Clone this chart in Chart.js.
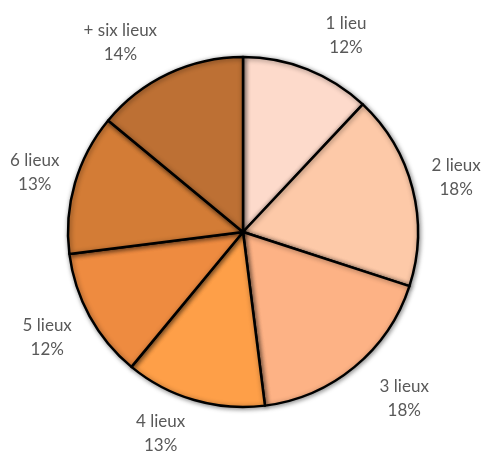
<!DOCTYPE html>
<html>
<head>
<meta charset="utf-8">
<script src="https://cdn.jsdelivr.net/npm/chart.js@4"></script>
<style>
  html, body { margin: 0; padding: 0; background: #fff; }
  #wrap { width: 481px; height: 453px; }
</style>
</head>
<body>
<div id="wrap"><canvas id="myChart" width="481" height="453"></canvas></div>
<script>
var categories = ["1 lieu", "2 lieux", "3 lieux", "4 lieux", "5 lieux", "6 lieux", "+ six lieux"];
var shares = [12, 18, 18, 13, 12, 13, 14];
var sliceColors = ["#FDDACB", "#FDC9A8", "#FDB285", "#FE9F48", "#EE8B40", "#D37C36", "#BD7034"];

// soft shadow behind the slices for the bevelled look
var sliceShadow = {
    id: "sliceShadow",
    beforeDatasetsDraw: function(chart) {
        var c = chart.ctx;
        c.save();
        c.shadowColor = "rgba(0,0,0,0.45)";
        c.shadowBlur = 5;
        c.shadowOffsetX = 1;
        c.shadowOffsetY = 1;
    },
    afterDatasetsDraw: function(chart) {
        chart.ctx.restore();
    }
};

// labels outside each slice: name on the first line, percent below
var outsideLabels = {
    id: "outsideLabels",
    afterDatasetsDraw: function(chart, args, opts) {
        var c = chart.ctx;
        var meta = chart.getDatasetMeta(0);
        c.save();
        c.fillStyle = "#595959";
        c.font = "17px Lato";
        c.textAlign = "center";
        c.textBaseline = "middle";
        meta.data.forEach(function(arc, i) {
            var p = arc.getProps(["x", "y", "startAngle", "endAngle", "outerRadius"], true);
            var mid = (p.startAngle + p.endAngle) / 2;
            var r = p.outerRadius + 45;
            var nudge = opts.nudge[i] || [0, 0];
            var x = p.x + Math.cos(mid) * r + nudge[0];
            var y = p.y + Math.sin(mid) * r + nudge[1];
            c.fillText(categories[i], x, y - 12);
            c.fillText(shares[i] + "%", x, y + 12);
        });
        c.restore();
    }
};

var ctx = document.getElementById("myChart").getContext("2d");
var myChart = new Chart(ctx, {
    type: "pie",
    data: {
        labels: categories,
        datasets: [{
            data: shares,
            backgroundColor: sliceColors,
            borderColor: "#000000",
            borderWidth: 2.5,
            borderJoinStyle: "round"
        }]
    },
    options: {
        responsive: false,
        animation: false,
        radius: 175,
        layout: { padding: { left: 68, right: 63, top: 57, bottom: 46 } },
        plugins: {
            legend: { display: false },
            tooltip: { enabled: false },
            outsideLabels: {
                nudge: [[22, 8], [0, 0], [21, -3], [-21, -10], [-3, 0], [3, 2], [-29, 10]]
            }
        }
    },
    plugins: [sliceShadow, outsideLabels]
});
</script>
</body>
</html>
